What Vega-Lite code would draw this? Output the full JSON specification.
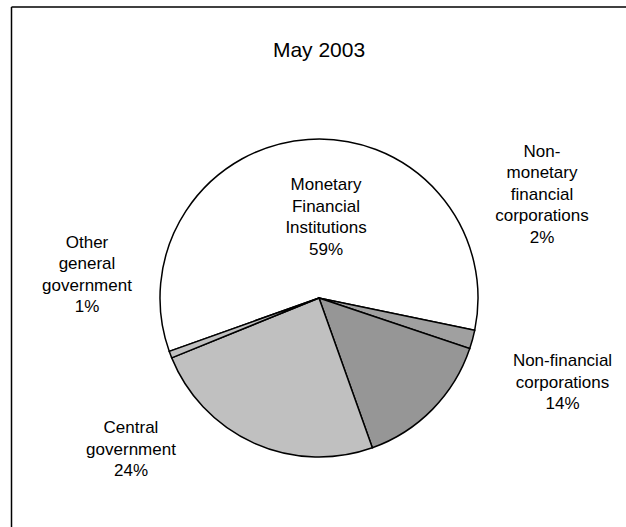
{
  "$schema": "https://vega.github.io/schema/vega-lite/v6.json",
  "width": 616,
  "height": 583,
  "autosize": {"type": "none"},
  "padding": {"left": 11, "top": 6.5, "right": 0, "bottom": 0},
  "background": "white",
  "config": {
    "view": {"stroke": null},
    "text": {"font": "Liberation Sans"}
  },
  "title": {
    "text": "May 2003",
    "font": "Liberation Sans",
    "fontSize": 21,
    "fontWeight": "normal",
    "color": "black",
    "anchor": "middle",
    "baseline": "alphabetic",
    "offset": -74.5,
    "frame": "group"
  },
  "data": {
    "values": [
      {"cat": "Monetary Financial Institutions", "value": 58.7, "order": 1, "label": "Monetary\nFinancial\nInstitutions\n59%"},
      {"cat": "Non-monetary financial corporations", "value": 1.9, "order": 2, "label": "Non-\nmonetary\nfinancial\ncorporations\n2%"},
      {"cat": "Non-financial corporations", "value": 14.4, "order": 3, "label": "Non-financial\ncorporations\n14%"},
      {"cat": "Central government", "value": 24.3, "order": 4, "label": "Central\ngovernment\n24%"},
      {"cat": "Other general government", "value": 0.7, "order": 5, "label": "Other\ngeneral\ngovernment\n1%"}
    ]
  },
  "layer": [
    {
      "mark": {"type": "point", "opacity": 0},
      "encoding": {
        "x": {"field": "value", "type": "quantitative", "axis": {"orient": "top", "domain": true, "domainColor": "black", "domainWidth": 1.5, "ticks": false, "labels": false, "grid": false, "title": null}},
        "y": {"field": "order", "type": "quantitative", "axis": {"orient": "left", "domain": true, "domainColor": "black", "domainWidth": 1.5, "ticks": false, "labels": false, "grid": false, "title": null}}
      }
    },
    {
      "mark": {"type": "arc", "radius": 159, "stroke": "black", "strokeWidth": 1.5},
      "encoding": {
        "theta": {"field": "value", "type": "quantitative", "stack": true, "scale": {"range": [-1.913, 4.3702]}},
        "order": {"field": "order", "type": "quantitative", "sort": "ascending"},
        "color": {
          "field": "cat",
          "type": "nominal",
          "scale": {
            "domain": ["Monetary Financial Institutions", "Non-monetary financial corporations", "Non-financial corporations", "Central government", "Other general government"],
            "range": ["#ffffff", "#a0a0a0", "#969696", "#c0c0c0", "#c0c0c0"]
          },
          "legend": null
        }
      }
    },
    {
      "transform": [{"filter": "datum.order === 1"}],
      "mark": {"type": "text", "dx": 7, "dy": -113, "fontSize": 17, "lineBreak": "\n", "lineHeight": 21.5, "baseline": "middle", "align": "center", "fill": "black"},
      "encoding": {"text": {"field": "label"}}
    },
    {
      "transform": [{"filter": "datum.order === 2"}],
      "mark": {"type": "text", "dx": 223, "dy": -146.5, "fontSize": 17, "lineBreak": "\n", "lineHeight": 21.5, "baseline": "middle", "align": "center", "fill": "black"},
      "encoding": {"text": {"field": "label"}}
    },
    {
      "transform": [{"filter": "datum.order === 3"}],
      "mark": {"type": "text", "dx": 243.5, "dy": 63, "fontSize": 17, "lineBreak": "\n", "lineHeight": 21.5, "baseline": "middle", "align": "center", "fill": "black"},
      "encoding": {"text": {"field": "label"}}
    },
    {
      "transform": [{"filter": "datum.order === 4"}],
      "mark": {"type": "text", "dx": -188, "dy": 130, "fontSize": 17, "lineBreak": "\n", "lineHeight": 21.5, "baseline": "middle", "align": "center", "fill": "black"},
      "encoding": {"text": {"field": "label"}}
    },
    {
      "transform": [{"filter": "datum.order === 5"}],
      "mark": {"type": "text", "dx": -232, "dy": -55.5, "fontSize": 17, "lineBreak": "\n", "lineHeight": 21.5, "baseline": "middle", "align": "center", "fill": "black"},
      "encoding": {"text": {"field": "label"}}
    }
  ]
}
